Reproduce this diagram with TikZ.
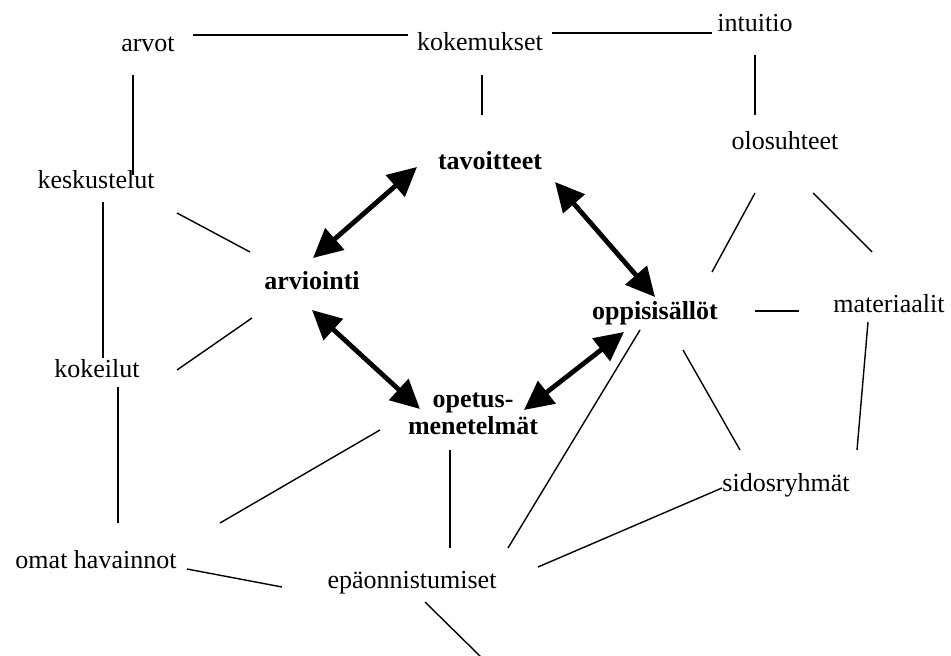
\documentclass[tikz,border=0pt]{standalone}
\usepackage{fontspec}
\setmainfont{Liberation Serif}
\usetikzlibrary{arrows.meta}

\begin{document}
\begin{tikzpicture}[x=0.5pt, y=-0.5pt,
	every node/.style={font=\fontsize{13}{13.5}\selectfont, inner sep=0pt, anchor=base},
	ydin/.style={font=\fontsize{13}{13.5}\selectfont\bfseries},
	yhteys/.style={line width=0.7pt},
	kaksisuunta/.style={line width=2.4pt, >={Triangle[length=14.5pt,width=14pt]}, <->}]
	\useasboundingbox (0,0) rectangle (951,656);
	% reunan kasitteet
	\node (arvot) at (148,52) {arvot};
	\node (kokemukset) at (480,51) {kokemukset};
	\node (intuitio) at (755,32) {intuitio};
	\node (keskustelut) at (96,189) {keskustelut};
	\node (olosuhteet) at (785,150) {olosuhteet};
	\node (materiaalit) at (889,313) {materiaalit};
	\node (kokeilut) at (97,378) {kokeilut};
	\node (sidosryhmat) at (786,492) {sidosryhmät};
	\node (omat) at (96,568) {omat havainnot};
	\node (epaonn) at (412,588) {epäonnistumiset};
	\coordinate (alas) at (482,658);
	% keskimmaiset
	\node[ydin] (tavoitteet) at (490,170) {tavoitteet};
	\node[ydin] (arviointi) at (312,290) {arviointi};
	\node[ydin] (oppisisallot) at (655,320) {oppisisällöt};
	\node[ydin, align=center] (opetus) at (473,435) {opetus-\\menetelmät};
	% ohuet viivat
	\draw[yhteys] ([shift={(45,-17)}]arvot.base) -- ([shift={(-72,-16)}]kokemukset.base);
	\draw[yhteys] ([shift={(72,-18)}]kokemukset.base) -- ([shift={(-43,1)}]intuitio.base);
	\draw[yhteys] ([shift={(-15,23)}]arvot.base) -- ([shift={(37,-14)}]keskustelut.base);
	\draw[yhteys] ([shift={(2,24)}]kokemukset.base) -- ([shift={(-8,-55)}]tavoitteet.base);
	\draw[yhteys] ([shift={(0,23)}]intuitio.base) -- ([shift={(-30,-35)}]olosuhteet.base);
	\draw[yhteys] ([shift={(7,13)}]keskustelut.base) -- ([shift={(6,-20)}]kokeilut.base);
	\draw[yhteys] ([shift={(81,24)}]keskustelut.base) -- ([shift={(-62,-38)}]arviointi.base);
	\draw[yhteys] ([shift={(80,-8)}]kokeilut.base) -- ([shift={(-60,28)}]arviointi.base);
	\draw[yhteys] ([shift={(21,9)}]kokeilut.base) -- ([shift={(22,-45)}]omat.base);
	\draw[yhteys] ([shift={(124,-45)}]omat.base) -- ([shift={(-93,-5)}]opetus.base);
	\draw[yhteys] ([shift={(-23,15)}]opetus.base) -- ([shift={(38,-40)}]epaonn.base);
	\draw[yhteys] ([shift={(91,1)}]omat.base) -- ([shift={(-130,-1)}]epaonn.base);
	\draw[yhteys] ([shift={(13,14)}]epaonn.base) -- (alas);
	\draw[yhteys] ([shift={(96,-40)}]epaonn.base) -- ([shift={(-15,10)}]oppisisallot.base);
	\draw[yhteys] ([shift={(126,-21)}]epaonn.base) -- ([shift={(-64,-4)}]sidosryhmat.base);
	\draw[yhteys] ([shift={(28,30)}]oppisisallot.base) -- ([shift={(-46,-42)}]sidosryhmat.base);
	\draw[yhteys] ([shift={(100,-9)}]oppisisallot.base) -- ([shift={(-90,-2)}]materiaalit.base);
	\draw[yhteys] ([shift={(-30,43)}]olosuhteet.base) -- ([shift={(57,-48)}]oppisisallot.base);
	\draw[yhteys] ([shift={(28,43)}]olosuhteet.base) -- ([shift={(-17,-61)}]materiaalit.base);
	\draw[yhteys] ([shift={(-21,9)}]materiaalit.base) -- ([shift={(71,-42)}]sidosryhmat.base);
	% paksut nuolet
	\draw[kaksisuunta] ([shift={(-73,-3)}]tavoitteet.base) -- ([shift={(1,-32)}]arviointi.base);
	\draw[kaksisuunta] ([shift={(65,12)}]tavoitteet.base) -- ([shift={(0,-23)}]oppisisallot.base);
	\draw[kaksisuunta] ([shift={(0,20)}]arviointi.base) -- ([shift={(-53,-26)}]opetus.base);
	\draw[kaksisuunta] ([shift={(51,-25)}]opetus.base) -- ([shift={(-31,12)}]oppisisallot.base);
\end{tikzpicture}
\end{document}
